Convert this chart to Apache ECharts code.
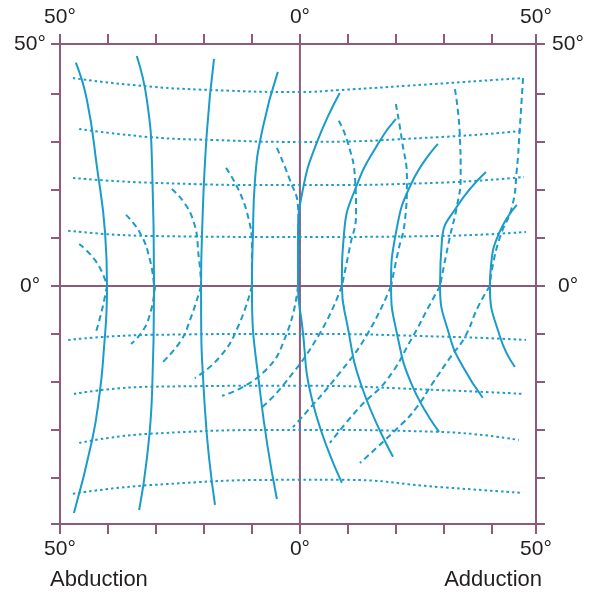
<!DOCTYPE html>
<html>
<head>
<meta charset="utf-8">
<script src="https://cdn.jsdelivr.net/npm/echarts@6/dist/echarts.min.js"></script>
<style>
html,body{margin:0;padding:0;background:#fff;}
#chart{width:589px;height:592px;}
</style>
</head>
<body>
<div id="chart"></div>
<script>
// ---- axis ticks / labels (degrees) ----
const xTickValues = [-50, -40, -30, -20, -10, 0, 10, 20, 30, 40, 49.2];
const yTickValues = [-49.6, -40, -30, -20, -10, 0, 10, 20, 30, 40, 50.4];
const xLabelValues = [-50, 0, 49.2];
const yLabelValues = [0, 50.4];
const sideLabels = ['Abduction', 'Adduction'];

// ---- reference cross (0° lines) ----
const zeroH = [[-52.9, 0], [52.9, 0]];
const zeroV = [[0, -49.6], [0, 50.4]];

// ---- solid curves ----
const solid1 = [[-46.7,46.5],[-44.4,38.8],[-42.3,24.8],[-40.6,11.0],[-40.2,0],[-41.0,-15.2],[-41.7,-22.1],[-43.3,-32.1],[-47.1,-47.3]];
const solid2 = [[-34.0,47.9],[-31.9,38.8],[-30.8,24.8],[-30.4,0],[-30.8,-22.1],[-31.9,-36.0],[-33.5,-46.7]];
const solid3 = [[-17.9,47.3],[-19.4,31.9],[-20.4,11.0],[-20.6,0],[-19.8,-25.6],[-17.7,-45.6]];
const solid4 = [[-4.6,44.6],[-7.7,33.1],[-9.4,21.5],[-9.8,10.4],[-10.0,0],[-8.3,-22.1],[-4.8,-44.4]];
const solid5 = [[8.3,40.2],[3.5,29.8],[0.6,20.0],[-0.4,10.2],[-0.4,0],[0.4,-7.7],[2.7,-24.4],[8.75,-41.0]];
const solid6 = [[20.0,34.8],[16.5,30.0],[11.7,20.6],[9.2,11.0],[8.75,0],[9.8,-7.7],[12.9,-21.0],[19.4,-35.6]];
const solid7 = [[28.75,29.6],[23.3,21.5],[20.0,11.0],[19.0,0],[20.2,-9.8],[23.5,-21.0],[29.0,-30.4]];
const solid8 = [[38.75,23.75],[32.7,16.5],[29.6,9.6],[29.2,0],[31.25,-10.6],[34.0,-16.9],[38.1,-23.3]];
const solid9 = [[45.2,16.9],[41.5,11.0],[39.8,4.0],[39.6,0],[41.7,-10.6],[44.8,-16.9]];

// ---- dotted (horizontal) curves ----
const dotted1 = [[-47.3,43.3],[-33.3,41.7],[-18.1,40.8],[-0.2,40.4],[8.1,40.8],[25.4,41.9],[46.25,43.3]];
const dotted2 = [[-46.0,32.7],[-31.25,31.0],[-18.1,30.4],[-0.2,30.0],[29.0,31.0],[46.25,32.3]];
const dotted3 = [[-47.3,22.5],[-31.25,21.5],[-0.2,21.0],[29.0,21.5],[46.7,22.7]];
const dotted4 = [[-48.3,11.5],[-31.25,10.4],[-0.2,10.2],[29.0,10.4],[47.1,11.25]];
const dotted5 = [[-48.3,-11.25],[-31.25,-10.2],[-0.2,-10.0],[31.0,-10.6],[47.1,-11.25]];
const dotted6 = [[-47.1,-22.5],[-31.25,-21.0],[-0.2,-20.8],[29.0,-21.7],[46.7,-22.5]];
const dotted7 = [[-46.0,-32.7],[-31.25,-30.8],[-0.2,-30.0],[29.0,-30.4],[45.6,-32.1]];
const dotted8 = [[-47.3,-43.3],[-31.25,-41.5],[-0.2,-40.4],[8.75,-40.4],[29.0,-41.9],[46.25,-43.1]];

// ---- dashed curves, upper parts ----
const dashUp1 = [[-46.0,8.75],[-42.3,4.8],[-40.2,0]];
const dashUp2 = [[-36.25,14.8],[-33.3,11.0],[-31.25,5.4],[-30.4,0]];
const dashUp3 = [[-26.7,20.2],[-22.5,14.4],[-21.0,5.4],[-20.6,0]];
const dashUp4 = [[-15.4,24.6],[-11.0,15.2],[-10.0,6.9],[-10.0,0]];
const dashUp5 = [[-4.8,28.75],[-2.1,22.1],[-0.4,16.5],[-0.2,9.6],[-0.4,0]];
const dashUp6 = [[8.1,34.4],[10.0,29.8],[11.5,22.1],[11.7,15.2],[10.4,8.1],[8.75,0]];
const dashUp7 = [[20.0,37.9],[21.25,30.4],[22.3,22.1],[21.9,13.75],[20.4,6.9],[19.0,0]];
const dashUp8 = [[32.3,41.0],[33.3,31.9],[33.5,22.7],[32.7,16.5],[31.25,10.2],[29.2,0]];
const dashUp9 = [[46.5,43.3],[45.8,32.5],[45.2,24.2],[44.2,16.5],[41.7,10.2],[40.0,3.3],[39.6,0]];

// ---- dashed curves, lower parts ----
const dashLow1 = [[-40.2,0],[-41.25,-5.0],[-42.5,-9.6]];
const dashLow2 = [[-30.2,0],[-31.9,-7.8],[-35.2,-12.1]];
const dashLow3 = [[-20.6,0],[-22.9,-7.1],[-25.0,-11.7],[-29.0,-16.25]];
const dashLow4 = [[-10.0,0],[-12.9,-8.5],[-16.7,-14.8],[-21.9,-19.2]];
const dashLow5 = [[-0.4,0],[-2.7,-9.8],[-7.7,-18.1],[-16.25,-22.9]];
const dashLow6 = [[8.75,0],[4.2,-9.8],[-3.75,-21.0],[-8.3,-25.6]];
const dashLow7 = [[19.0,0],[14.2,-9.8],[8.3,-18.1],[-0.4,-28.3],[-1.5,-29.4]];
const dashLow8 = [[29.2,0],[26.7,-4.6],[23.5,-10.6],[18.1,-19.6],[12.5,-25.2],[6.25,-32.7]];
const dashLow9 = [[39.6,0],[37.1,-4.4],[34.4,-10.6],[31.25,-15.0],[27.7,-20.2],[24.4,-25.2],[21.5,-28.5],[12.5,-36.9]];

const solidList = [solid1, solid2, solid3, solid4, solid5, solid6, solid7, solid8, solid9];
const dottedList = [dotted1, dotted2, dotted3, dotted4, dotted5, dotted6, dotted7, dotted8];
const dashedList = [dashUp1, dashUp2, dashUp3, dashUp4, dashUp5, dashUp6, dashUp7, dashUp8, dashUp9,
                    dashLow1, dashLow2, dashLow3, dashLow4, dashLow5, dashLow6, dashLow7, dashLow8, dashLow9];

const FRAME = '#8c5a7a';
const CYAN = '#1b9bc9';
const TEXT = '#231f20';
const FONT = 'Liberation Sans, Arial, Helvetica, sans-serif';

function degFmt(v) { return Math.round(Math.abs(v) / 10) * 10 + '°'; }

function axisCommon(extra) {
  return Object.assign({
    type: 'value',
    axisLine: { show: true, onZero: false, lineStyle: { color: FRAME, width: 2 } },
    splitLine: { show: false },
    axisTick: { show: true, length: 10, lineStyle: { color: FRAME, width: 2 } },
    axisLabel: { show: true, color: TEXT, fontSize: 21, fontFamily: FONT, formatter: degFmt }
  }, extra);
}

const xBase = { min: -50, max: 49.2 };
const yBase = { min: -49.6, max: 50.4 };

function curve(data, type, width) {
  return {
    type: 'line', data: data, xAxisIndex: 0, yAxisIndex: 0,
    smooth: 0.5, showSymbol: false, symbol: 'none', silent: true, clip: false, z: 3,
    lineStyle: { color: CYAN, width: width, type: type, cap: 'butt' }
  };
}

const series = [];
series.push({ type: 'line', data: zeroH, showSymbol: false, symbol: 'none', clip: false, z: 1, silent: true,
  lineStyle: { color: FRAME, width: 2 } });
series.push({ type: 'line', data: zeroV, showSymbol: false, symbol: 'none', clip: false, z: 1, silent: true,
  lineStyle: { color: FRAME, width: 2 } });
dottedList.forEach(d => series.push(curve(d, [2.5, 3], 2)));
dashedList.forEach(d => series.push(curve(d, [6, 4], 2)));
solidList.forEach(d => series.push(curve(d, 'solid', 2)));

const chart = echarts.init(document.getElementById('chart'), null, { renderer: 'canvas' });
chart.setOption({
  animation: false,
  backgroundColor: '#ffffff',
  grid: { left: 60, right: 53, top: 44, bottom: 68, containLabel: false },
  title: [
    { text: sideLabels[0], left: 50, top: 569, padding: 0,
      textStyle: { fontSize: 22, fontWeight: 'normal', color: TEXT, fontFamily: FONT } },
    { text: sideLabels[1], right: 47, top: 569, padding: 0,
      textStyle: { fontSize: 22, fontWeight: 'normal', color: TEXT, fontFamily: FONT } }
  ],
  xAxis: [
    axisCommon(Object.assign({ position: 'bottom',
      axisTick: { show: true, length: 10, customValues: xTickValues, lineStyle: { color: FRAME, width: 2 } },
      axisLabel: { show: true, customValues: xLabelValues, margin: 15, color: TEXT, fontSize: 21, fontFamily: FONT, formatter: degFmt }
    }, xBase)),
    axisCommon(Object.assign({ position: 'top',
      axisTick: { show: true, length: 10, customValues: xTickValues, lineStyle: { color: FRAME, width: 2 } },
      axisLabel: { show: true, customValues: xLabelValues, margin: 16, color: TEXT, fontSize: 21, fontFamily: FONT, formatter: degFmt }
    }, xBase))
  ],
  yAxis: [
    axisCommon(Object.assign({ position: 'left',
      axisTick: { show: true, length: 9, customValues: yTickValues, lineStyle: { color: FRAME, width: 2 } },
      axisLabel: { show: true, customValues: yLabelValues, margin: 30, align: 'center', color: TEXT, fontSize: 21, fontFamily: FONT, formatter: degFmt }
    }, yBase)),
    axisCommon(Object.assign({ position: 'right',
      axisTick: { show: true, length: 9, customValues: yTickValues, lineStyle: { color: FRAME, width: 2 } },
      axisLabel: { show: true, customValues: yLabelValues, margin: 32, align: 'center', color: TEXT, fontSize: 21, fontFamily: FONT, formatter: degFmt }
    }, yBase))
  ],
  series: series
});
</script>
</body>
</html>
